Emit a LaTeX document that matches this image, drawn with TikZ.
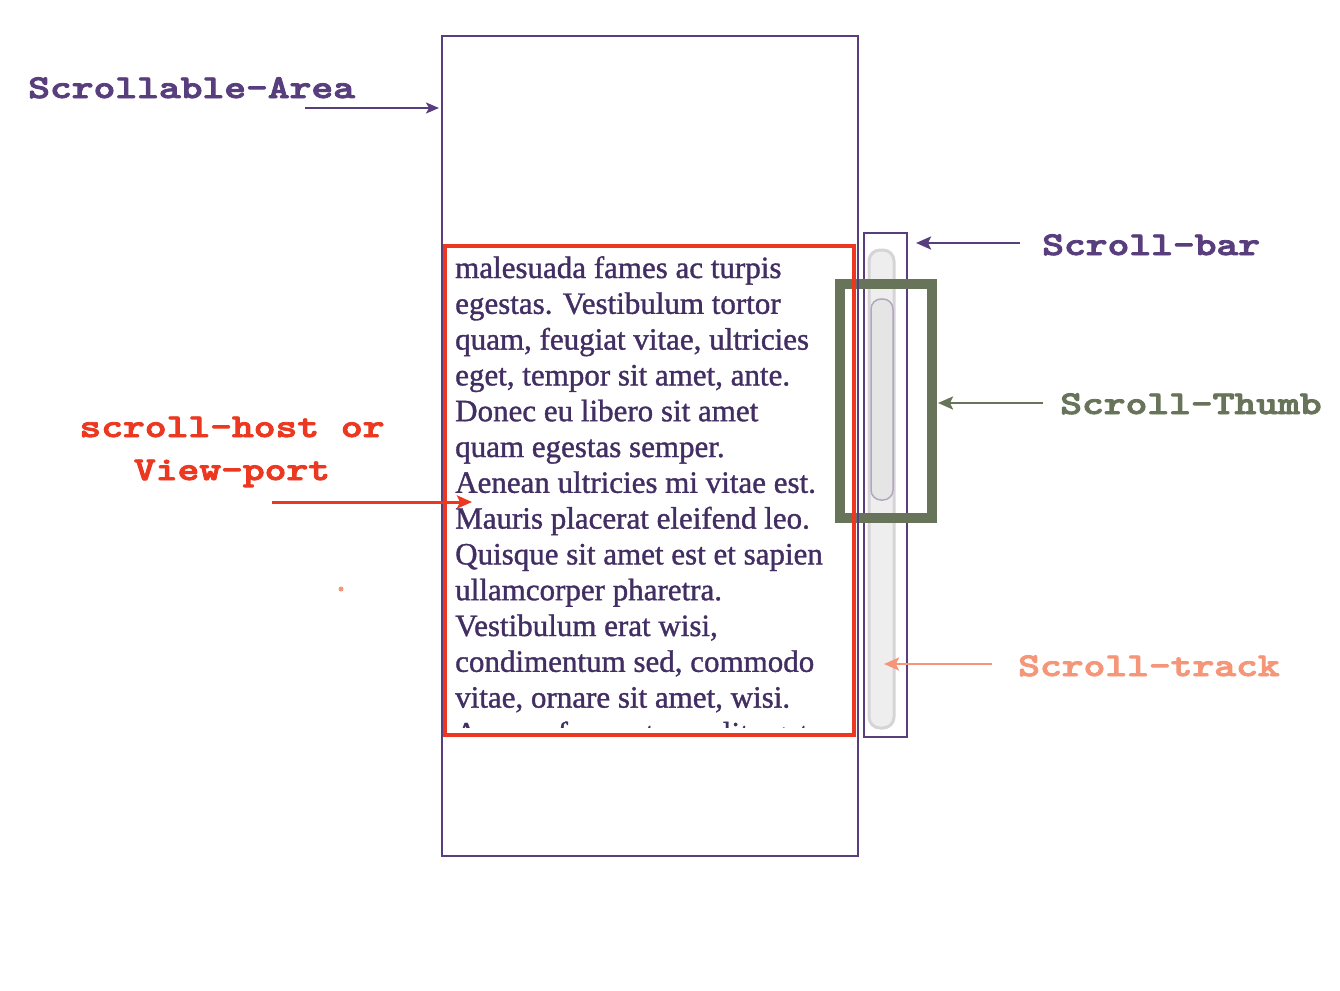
\documentclass[tikz,border=0pt]{standalone}
\usepackage{fontspec}
\setmainfont{Liberation Serif}
\newfontfamily\bodyfont{Liberation Serif}[FakeBold=1.2]
\newfontfamily\labfont{lmmonolt10-bold.otf}[FakeBold=2.5]
\usetikzlibrary{arrows.meta}
\definecolor{cpurple}{RGB}{88,62,124}
\definecolor{ctext}{RGB}{66,46,98}
\definecolor{cred}{RGB}{236,56,32}
\definecolor{cgreen}{RGB}{104,116,90}
\definecolor{csalmon}{RGB}{246,150,120}
\definecolor{cgray}{RGB}{214,212,214}
\definecolor{cthumb}{RGB}{176,168,190}
\newcommand{\labtxt}[1]{\scalebox{1}[0.8]{#1}}
\tikzset{
  lab/.style={font=\labfont\fontsize{41.5}{48}\selectfont, inner sep=0pt, anchor=base west},
  bodyline/.style={font=\bodyfont\fontsize{31}{36}\selectfont, text=ctext, inner sep=0pt, anchor=base west},
  arr/.style={line width=2.5pt, -{Stealth[length=15pt,width=13pt,inset=3pt]}},
}
\begin{document}
\begin{tikzpicture}[x=1pt,y=-1pt]
\useasboundingbox (0,0) rectangle (1340,990);
% scrollable area
\draw[cpurple, line width=2pt] (442,36) rectangle (858,856);
\coordinate (areaL) at (439,108);
% body text clipped to viewport
\begin{scope}
\clip (448,249) rectangle (851,727);
\foreach \t [count=\i] in {malesuada fames ac turpis,egestas. Vestibulum tortor,{quam, feugiat vitae, ultricies},{eget, tempor sit amet, ante.},Donec eu libero sit amet,quam egestas semper.,Aenean ultricies mi vitae est.,Mauris placerat eleifend leo.,Quisque sit amet est et sapien,ullamcorper pharetra.,{Vestibulum erat wisi,},{condimentum sed, commodo},{vitae, ornare sit amet, wisi.},{Aenean fermentum, elit eget}}
  \node[bodyline] (l\i) at (455,{278+(\i-1)*35.8}) {\t};
\end{scope}
% scroll bar
\draw[cpurple, line width=2.5pt] (864,233) rectangle (907,737);
\draw[cgray, line width=3pt, fill=cgray!40, rounded corners=11pt] (869,250) rectangle (894,728);
\draw[cthumb, line width=1.5pt, fill=cgray!60, rounded corners=10pt] (871,299) rectangle (893,500);
% thumb highlight
\draw[cgreen, line width=10pt] (840,284) rectangle (931.5,518);
% viewport
\draw[cpurple, line width=2pt] (858,270) -- (858,530);
\draw[cred, line width=4.5pt] (445,246) rectangle (854,735);
% labels
\node[lab, text=cpurple] (areaT) at (28,98) {\labtxt{Scrollable-Area}};
\node[lab, text=cpurple] (barT) at (1042,255) {\labtxt{Scroll-bar}};
\node[lab, text=cgreen] (thumbT) at (1060,414) {\labtxt{Scroll-Thumb}};
\node[lab, text=csalmon] (trackT) at (1018,676) {\labtxt{Scroll-track}};
\node[lab, text=cred, anchor=base] (hostT) at (232,437) {\labtxt{scroll-host or}};
\node[lab, text=cred, anchor=base] (portT) at (232,480) {\labtxt{View-port}};
% connectors
\coordinate (areaS) at (305,108);
\draw[arr, cpurple, line width=2pt, -{Stealth[length=13pt,width=11pt,inset=3pt]}] (areaS) -- (areaL);
\coordinate (barS) at (1020,243);
\coordinate (barE) at (916,243);
\draw[arr, cpurple] (barS) -- (barE);
\coordinate (thumbS) at (1043,403);
\coordinate (thumbE) at (938,403);
\draw[arr, cgreen] (thumbS) -- (thumbE);
\coordinate (trackS) at (992,664);
\coordinate (trackE) at (884,664);
\draw[arr, csalmon] (trackS) -- (trackE);
\coordinate (hostS) at (272,502);
\coordinate (hostE) at (472,502);
\draw[arr, cred, line width=3pt] (hostS) -- (hostE);
\fill[csalmon] (341,589) circle (2.5);
\end{tikzpicture}
\end{document}
